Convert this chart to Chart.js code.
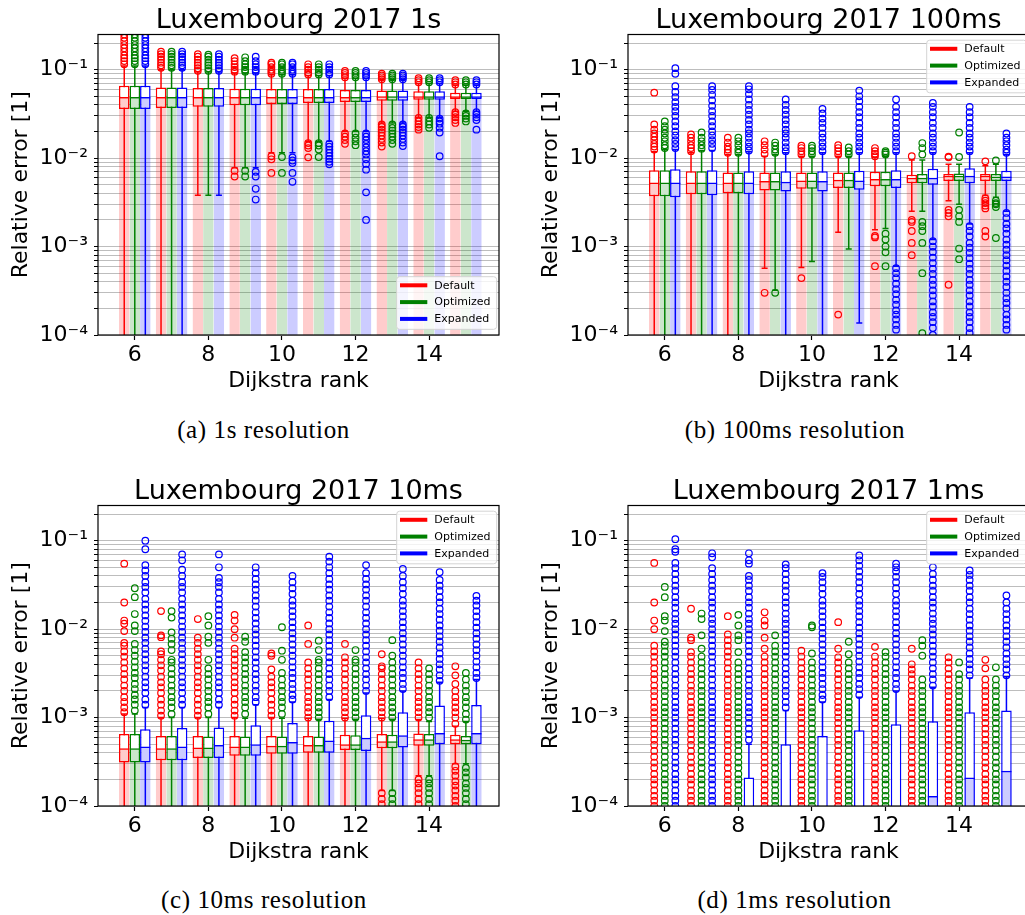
<!DOCTYPE html>
<html>
<head>
<meta charset="utf-8">
<script src="https://cdn.jsdelivr.net/npm/chart.js@4.4.0/dist/chart.umd.min.js"></script>
<style>
  body { margin: 0; width: 1025px; height: 915px; overflow: hidden; background: #fff; position: relative; }
  .panel { position: absolute; width: 510px; height: 400px; }
  .caption { position: absolute; transform: translate(-50%, -50%); white-space: nowrap;
             font-family: 'Liberation Serif', serif; font-size: 25px; letter-spacing: 0.6px; color: #000; }
</style>
</head>
<body>
<div class="panel" style="left:0;top:0"><canvas id="p1" width="510" height="400"></canvas></div>
<div class="panel" style="left:530px;top:0"><canvas id="p2" width="510" height="400"></canvas></div>
<div class="panel" style="left:0;top:471px"><canvas id="p3" width="510" height="400"></canvas></div>
<div class="panel" style="left:530px;top:471px"><canvas id="p4" width="510" height="400"></canvas></div>
<div class="caption" style="left:263.5px;top:430px">(a) 1s resolution</div>
<div class="caption" style="left:795px;top:430px">(b) 100ms resolution</div>
<div class="caption" style="left:264px;top:900px">(c) 10ms resolution</div>
<div class="caption" style="left:794.5px;top:900px">(d) 1ms resolution</div>
<script>
/* ---------- data ---------- */
const ranks = [6, 7, 8, 9, 10, 11, 12, 13, 14, 15];
const seriesNames = ['Default', 'Optimized', 'Expanded'];
const xTicks = [6, 8, 10, 12, 14];
const yTicks = [1e-4, 2e-4, 3e-4, 4e-4, 5e-4, 6e-4, 7e-4, 8e-4, 9e-4,
                1e-3, 2e-3, 3e-3, 4e-3, 5e-3, 6e-3, 7e-3, 8e-3, 9e-3,
                0.01, 0.02, 0.03, 0.04, 0.05, 0.06, 0.07, 0.08, 0.09, 0.1, 0.2];

// box stats per rank: [whisker low, q1, median, q3, whisker high]
// 1s
const box1Def = [
  [1e-6, 0.036, 0.049, 0.066, 0.11], [1e-6, 0.037, 0.049, 0.063, 0.1], [0.0038, 0.038, 0.049, 0.062, 0.094],
  [0.0078, 0.0395, 0.049, 0.061, 0.092], [0.0115, 0.041, 0.049, 0.0605, 0.088], [0.0155, 0.042, 0.049, 0.0605, 0.086],
  [0.02, 0.043, 0.049, 0.059, 0.08], [0.025, 0.0446, 0.05, 0.058, 0.077], [0.029, 0.0457, 0.05, 0.057, 0.07],
  [0.034, 0.0465, 0.05, 0.055, 0.067]
];
const box1Opt = [
  [1e-6, 0.036, 0.049, 0.066, 0.11], [1e-6, 0.037, 0.049, 0.063, 0.1], [0.0038, 0.038, 0.049, 0.062, 0.094],
  [0.0078, 0.0395, 0.049, 0.061, 0.092], [0.0115, 0.041, 0.049, 0.0605, 0.088], [0.0155, 0.042, 0.049, 0.0605, 0.086],
  [0.02, 0.043, 0.049, 0.059, 0.08], [0.025, 0.0446, 0.05, 0.058, 0.077], [0.029, 0.0457, 0.05, 0.057, 0.07],
  [0.034, 0.0465, 0.05, 0.055, 0.067]
];
const box1Exp = [
  [1e-6, 0.036, 0.049, 0.066, 0.11], [1e-6, 0.037, 0.049, 0.063, 0.1], [0.0038, 0.038, 0.049, 0.062, 0.094],
  [0.0078, 0.0395, 0.049, 0.061, 0.092], [0.0115, 0.041, 0.049, 0.0605, 0.088], [0.0155, 0.042, 0.049, 0.0605, 0.086],
  [0.02, 0.043, 0.049, 0.059, 0.08], [0.025, 0.0446, 0.05, 0.058, 0.077], [0.029, 0.0457, 0.05, 0.057, 0.07],
  [0.034, 0.0465, 0.05, 0.055, 0.067]
];
const out1Def = [
  [0.115, 0.125, 0.135, 0.145, 0.16, 0.175, 0.19, 0.21, 0.23, 0.25],
  [0.105, 0.112, 0.12, 0.13, 0.14, 0.15, 0.16],
  [0.097, 0.104, 0.112, 0.12, 0.13, 0.14, 0.15],
  [0.095, 0.1, 0.107, 0.115, 0.125, 0.135, 0.0072, 0.0062],
  [0.09, 0.095, 0.1, 0.107, 0.115, 0.12, 0.0105, 0.0097, 0.0068],
  [0.088, 0.093, 0.1, 0.107, 0.115, 0.0148, 0.0139, 0.013, 0.0102],
  [0.082, 0.087, 0.092, 0.097, 0.019, 0.0175, 0.016, 0.0145],
  [0.078, 0.082, 0.086, 0.09, 0.024, 0.0225, 0.021, 0.0195, 0.018, 0.0165, 0.015, 0.0135],
  [0.072, 0.076, 0.08, 0.0285, 0.026, 0.024, 0.0225, 0.021],
  [0.068, 0.072, 0.076, 0.033, 0.031, 0.029, 0.027, 0.025]
];
const out1Opt = [
  [0.115, 0.125, 0.135, 0.145, 0.16, 0.175, 0.19, 0.21, 0.23, 0.25],
  [0.105, 0.112, 0.12, 0.13, 0.14, 0.15, 0.16],
  [0.097, 0.104, 0.112, 0.12, 0.13, 0.14, 0.148],
  [0.095, 0.1, 0.107, 0.115, 0.125, 0.138, 0.0072, 0.0062],
  [0.09, 0.095, 0.1, 0.107, 0.115, 0.12, 0.0103, 0.0068],
  [0.088, 0.093, 0.1, 0.107, 0.115, 0.0148, 0.0139, 0.0125, 0.0103],
  [0.082, 0.087, 0.092, 0.097, 0.019, 0.017, 0.0155, 0.014],
  [0.078, 0.082, 0.086, 0.09, 0.024, 0.022, 0.0205, 0.019, 0.0175, 0.016, 0.0145],
  [0.072, 0.076, 0.08, 0.0285, 0.026, 0.024, 0.022],
  [0.068, 0.072, 0.076, 0.032, 0.03, 0.028, 0.026]
];
const out1Exp = [
  [0.115, 0.125, 0.135, 0.145, 0.16, 0.175, 0.19, 0.21, 0.23, 0.25],
  [0.105, 0.112, 0.12, 0.13, 0.14, 0.15, 0.16],
  [0.097, 0.104, 0.112, 0.12, 0.13, 0.14, 0.15],
  [0.095, 0.1, 0.107, 0.115, 0.125, 0.14, 0.007, 0.0062, 0.0045, 0.0034],
  [0.09, 0.095, 0.1, 0.107, 0.115, 0.12, 0.0102, 0.0094, 0.0088, 0.0068, 0.0054],
  [0.088, 0.093, 0.1, 0.107, 0.115, 0.0145, 0.0135, 0.0125, 0.0115, 0.0106, 0.0098, 0.0091, 0.0085],
  [0.082, 0.087, 0.092, 0.097, 0.019, 0.0175, 0.016, 0.0145, 0.0132, 0.012, 0.011, 0.0097, 0.0086, 0.0074, 0.0041, 0.002],
  [0.078, 0.082, 0.086, 0.09, 0.024, 0.0225, 0.021, 0.0195, 0.018, 0.0165, 0.015, 0.0137],
  [0.072, 0.076, 0.08, 0.028, 0.026, 0.0245, 0.022, 0.0195, 0.0105],
  [0.068, 0.072, 0.076, 0.033, 0.031, 0.029, 0.027, 0.021]
];

// 100ms
const box2Def = [
  [1e-6, 0.0037, 0.0053, 0.0073, 0.0118], [1e-6, 0.0039, 0.0053, 0.0071, 0.0115], [1e-6, 0.004, 0.0053, 0.0069, 0.011],
  [0.00057, 0.0043, 0.0055, 0.0069, 0.0105], [0.00058, 0.0045, 0.0056, 0.0069, 0.0105], [0.00145, 0.0046, 0.0057, 0.0069, 0.0105],
  [0.00155, 0.0048, 0.0058, 0.007, 0.0102], [0.0025, 0.0052, 0.006, 0.0065, 0.0095], [0.0033, 0.0055, 0.0063, 0.0066, 0.0085],
  [0.0038, 0.0055, 0.0063, 0.0066, 0.0082]
];
const box2Opt = [
  [1e-6, 0.0037, 0.0053, 0.0073, 0.0125], [1e-6, 0.0039, 0.0053, 0.0071, 0.0122], [1e-6, 0.004, 0.0053, 0.0069, 0.011],
  [0.00032, 0.0043, 0.0055, 0.0069, 0.011], [0.00068, 0.0045, 0.0056, 0.0069, 0.0105], [0.00094, 0.0046, 0.0057, 0.0069, 0.0105],
  [0.0016, 0.0048, 0.0058, 0.007, 0.0105], [0.0025, 0.0052, 0.006, 0.0066, 0.0095], [0.003, 0.0055, 0.0063, 0.0067, 0.0085],
  [0.0036, 0.0055, 0.0062, 0.0066, 0.0085]
];
const box2Exp = [
  [1e-6, 0.0036, 0.0053, 0.0075, 0.0125], [1e-6, 0.0038, 0.0053, 0.0073, 0.0122], [1e-6, 0.0039, 0.0053, 0.0071, 0.0118],
  [1e-6, 0.0042, 0.0054, 0.0071, 0.0115], [1e-6, 0.0042, 0.0055, 0.0071, 0.0115], [0.000137, 0.0044, 0.0056, 0.0072, 0.0115],
  [0.0006, 0.0046, 0.0058, 0.0073, 0.0115], [0.0012, 0.005, 0.006, 0.0076, 0.0115], [0.0018, 0.0052, 0.0063, 0.0077, 0.0115],
  [0.0025, 0.0055, 0.0062, 0.0072, 0.011]
];
const out2Def = [
  [0.0125, 0.0135, 0.0145, 0.016, 0.0175, 0.019, 0.021, 0.024, 0.055],
  [0.012, 0.013, 0.014, 0.0155, 0.017, 0.0185],
  [0.0115, 0.0125, 0.0135, 0.015, 0.017],
  [0.0112, 0.0125, 0.014, 0.0155, 0.0003],
  [0.011, 0.012, 0.013, 0.0138, 0.00044],
  [0.011, 0.012, 0.013, 0.014, 0.00017],
  [0.0105, 0.0112, 0.012, 0.013, 0.00132, 0.00127, 0.0006],
  [0.0105, 0.002, 0.0019, 0.0015, 0.0011, 0.0008],
  [0.0102, 0.0104, 0.0026, 0.0024, 0.0022, 0.00037],
  [0.0092, 0.0035, 0.0033, 0.0031, 0.0029, 0.0027, 0.0015, 0.0013]
];
const out2Opt = [
  [0.013, 0.014, 0.0155, 0.017, 0.019, 0.021, 0.023, 0.026],
  [0.0128, 0.014, 0.0155, 0.017, 0.0195],
  [0.0115, 0.0125, 0.014, 0.0155, 0.017],
  [0.0115, 0.0125, 0.0138, 0.015, 0.0003],
  [0.011, 0.012, 0.013, 0.0138],
  [0.011, 0.012, 0.0132],
  [0.011, 0.0115, 0.012, 0.0014, 0.0012, 0.001, 0.00086, 0.0006],
  [0.011, 0.013, 0.0148, 0.0019, 0.0017, 0.0015, 0.0011, 0.0005, 0.000105],
  [0.0103, 0.0195, 0.0026, 0.0022, 0.0019, 0.00095, 0.00072],
  [0.0094, 0.0033, 0.0031, 0.003, 0.0028, 0.00125]
];
const out2Exp = [
  [0.013, 0.0145, 0.016, 0.018, 0.02, 0.023, 0.026, 0.03, 0.034, 0.038, 0.043, 0.049, 0.056, 0.065, 0.09, 0.104],
  [0.013, 0.0145, 0.016, 0.018, 0.02, 0.023, 0.026, 0.03, 0.034, 0.039, 0.045, 0.052, 0.059, 0.065],
  [0.0122, 0.0135, 0.015, 0.017, 0.019, 0.021, 0.024, 0.027, 0.031, 0.035, 0.04, 0.046, 0.053, 0.06, 0.065],
  [0.012, 0.0133, 0.015, 0.017, 0.019, 0.021, 0.024, 0.027, 0.031, 0.035, 0.04, 0.046],
  [0.012, 0.0135, 0.015, 0.017, 0.019, 0.022, 0.025, 0.028, 0.032, 0.036],
  [0.012, 0.0135, 0.015, 0.017, 0.019, 0.022, 0.025, 0.029, 0.033, 0.038, 0.044, 0.05, 0.058],
  [0.012, 0.0135, 0.015, 0.017, 0.019, 0.022, 0.025, 0.029, 0.033, 0.038, 0.046,
   0.00057, 0.0005, 0.00044, 0.00038, 0.00033, 0.00029, 0.00025, 0.00022, 0.00019, 0.00017, 0.00015, 0.00013, 0.000115],
  [0.012, 0.0135, 0.015, 0.017, 0.019, 0.022, 0.025, 0.029, 0.033, 0.038, 0.042,
   0.00115, 0.001, 0.00087, 0.00075, 0.00065, 0.00056, 0.00049, 0.00042, 0.00037, 0.00032, 0.00028, 0.00024, 0.00021, 0.00018, 0.00016, 0.00014, 0.00012, 0.0001],
  [0.012, 0.0135, 0.015, 0.017, 0.019, 0.022, 0.025, 0.029, 0.033, 0.038,
   0.0017, 0.0015, 0.0013, 0.0011, 0.00097, 0.00085, 0.00074, 0.00064, 0.00056, 0.00049, 0.00042, 0.00037, 0.00032, 0.00028, 0.00024, 0.00021, 0.00018, 0.00016, 0.00014, 0.00012, 0.000105],
  [0.0115, 0.0125, 0.014, 0.0155, 0.017, 0.019,
   0.0024, 0.0021, 0.0018, 0.0016, 0.0014, 0.0012, 0.00105, 0.00092, 0.0008, 0.0007, 0.00061, 0.00053, 0.00046, 0.0004, 0.00035, 0.0003, 0.00026, 0.00023, 0.0002, 0.00017, 0.00015, 0.00013, 0.000115]
];

// 10ms
const box3Def = [
  [1e-6, 0.00031, 0.00045, 0.00065, 0.0011], [1e-6, 0.00033, 0.00045, 0.00062, 0.001], [1e-6, 0.00035, 0.00046, 0.00062, 0.001],
  [1e-6, 0.00037, 0.00047, 0.00062, 0.001], [1e-6, 0.00039, 0.00048, 0.00062, 0.001], [1e-6, 0.0004, 0.00049, 0.00062, 0.00098],
  [1e-6, 0.00043, 0.0005, 0.00064, 0.00098], [0.00015, 0.00045, 0.00054, 0.00065, 0.00098], [0.00022, 0.00048, 0.00057, 0.00066, 0.00095],
  [0.0003, 0.0005, 0.00057, 0.00064, 0.0008]
];
const box3Opt = [
  [1e-6, 0.00031, 0.00045, 0.00065, 0.0011], [1e-6, 0.00033, 0.00045, 0.00062, 0.001], [1e-6, 0.00035, 0.00046, 0.00061, 0.001],
  [1e-6, 0.00037, 0.00047, 0.00061, 0.00098], [1e-6, 0.00039, 0.00048, 0.00061, 0.00098], [1e-6, 0.0004, 0.00049, 0.00061, 0.00096],
  [1e-6, 0.00043, 0.0005, 0.00063, 0.00096], [0.00015, 0.00045, 0.00054, 0.00064, 0.00096], [0.00022, 0.00048, 0.00057, 0.00065, 0.0009],
  [0.0003, 0.0005, 0.00056, 0.00062, 0.0009]
];
const box3Exp = [
  [1e-6, 0.00031, 0.00047, 0.00074, 0.0013], [1e-6, 0.00033, 0.00047, 0.00076, 0.0013], [1e-6, 0.00035, 0.00049, 0.00077, 0.0013],
  [1e-6, 0.00037, 0.0005, 0.00082, 0.0014], [1e-6, 0.00039, 0.00053, 0.00087, 0.0015], [1e-6, 0.0004, 0.00055, 0.00092, 0.0016],
  [1e-6, 0.00042, 0.00059, 0.00106, 0.0019], [1e-6, 0.00046, 0.00063, 0.00115, 0.002], [1e-6, 0.0005, 0.00067, 0.00137, 0.0025],
  [1e-6, 0.0005, 0.00067, 0.00139, 0.0027]
];
const out3Def = [
  [0.00115, 0.0013, 0.0015, 0.0017, 0.002, 0.0023, 0.0027, 0.0031, 0.0036, 0.0042, 0.0049, 0.0056, 0.0065, 0.007, 0.0095, 0.0115, 0.0125, 0.02, 0.055],
  [0.00105, 0.0012, 0.0014, 0.0016, 0.0019, 0.0022, 0.0025, 0.0029, 0.0034, 0.0039, 0.0045, 0.0052, 0.0056, 0.0081, 0.0085, 0.016],
  [0.00105, 0.0012, 0.0014, 0.0016, 0.0019, 0.0022, 0.0025, 0.0029, 0.0034, 0.0039, 0.0045, 0.0052, 0.006, 0.007, 0.008, 0.013],
  [0.00105, 0.0012, 0.0014, 0.0016, 0.0019, 0.0022, 0.0025, 0.0029, 0.0034, 0.0039, 0.0045, 0.0052, 0.006, 0.008, 0.01, 0.0125, 0.0145],
  [0.00105, 0.0012, 0.0014, 0.0016, 0.0019, 0.0022, 0.0025, 0.0029, 0.0035, 0.005, 0.0053],
  [0.001, 0.00115, 0.0013, 0.0015, 0.0017, 0.002, 0.0023, 0.0027, 0.0031, 0.0036, 0.0042, 0.0068, 0.011],
  [0.001, 0.00115, 0.0013, 0.0015, 0.0017, 0.002, 0.0023, 0.0027, 0.0031, 0.0036, 0.0042, 0.0048, 0.0068],
  [0.001, 0.00115, 0.0013, 0.0015, 0.0017, 0.002, 0.0023, 0.0027, 0.0031, 0.0036, 0.0038, 0.0052, 0.00014, 0.00012, 0.000105],
  [0.001, 0.00115, 0.0013, 0.0015, 0.0017, 0.002, 0.0023, 0.0027, 0.0031, 0.0036, 0.0042, 0.0002, 0.00018, 0.00016, 0.00014, 0.00012, 0.000105],
  [0.00085, 0.001, 0.00115, 0.0013, 0.0015, 0.0017, 0.002, 0.0024, 0.003, 0.0038, 0.00028, 0.00025, 0.00022, 0.00019, 0.00017, 0.00015, 0.00013, 0.000115, 0.0001]
];
const out3Opt = [
  [0.0012, 0.0014, 0.0016, 0.0018, 0.0021, 0.0024, 0.0028, 0.0032, 0.0037, 0.0043, 0.005, 0.0058, 0.0068, 0.0095, 0.011, 0.0148, 0.023, 0.029],
  [0.0011, 0.0013, 0.0015, 0.0017, 0.002, 0.0023, 0.0027, 0.0031, 0.0036, 0.0042, 0.0045, 0.0058, 0.0068, 0.0078, 0.0092, 0.0135, 0.016],
  [0.0011, 0.0013, 0.0015, 0.0017, 0.002, 0.0023, 0.0027, 0.0031, 0.0036, 0.0045, 0.007, 0.0082, 0.011, 0.014],
  [0.0011, 0.0013, 0.0015, 0.0017, 0.002, 0.0023, 0.0027, 0.0031, 0.0036, 0.0042, 0.0048, 0.0055, 0.0072, 0.0082],
  [0.0011, 0.0013, 0.0015, 0.0017, 0.002, 0.0023, 0.0027, 0.0032, 0.0045, 0.0057, 0.0105],
  [0.001, 0.00115, 0.0013, 0.0015, 0.0017, 0.002, 0.0023, 0.0027, 0.0031, 0.0036, 0.0042, 0.0045, 0.0058, 0.0074],
  [0.001, 0.00115, 0.0013, 0.0015, 0.0017, 0.002, 0.0023, 0.0027, 0.0031, 0.0036, 0.0042, 0.0045, 0.0058],
  [0.001, 0.00115, 0.0013, 0.0015, 0.0017, 0.002, 0.0023, 0.0027, 0.0031, 0.0036, 0.0042, 0.005, 0.0075, 0.00014, 0.00012, 0.000105],
  [0.001, 0.00115, 0.0013, 0.0015, 0.0017, 0.002, 0.0023, 0.0027, 0.0031, 0.0036, 0.0002, 0.00018, 0.00016, 0.00014, 0.00012, 0.000105],
  [0.00095, 0.0011, 0.0013, 0.0015, 0.0017, 0.002, 0.0023, 0.0027, 0.0032, 0.00027, 0.00024, 0.00021, 0.00018, 0.00016, 0.00014, 0.00012, 0.000105]
];
const out3Exp = [
  [0.0014, 0.0016, 0.0019, 0.0022, 0.0025, 0.0029, 0.0034, 0.0039, 0.0045, 0.0052, 0.006, 0.007, 0.008, 0.0093, 0.0107, 0.0124, 0.0143, 0.0166, 0.019, 0.022, 0.026, 0.03, 0.034, 0.04, 0.046, 0.053, 0.08, 0.1],
  [0.0014, 0.0016, 0.0019, 0.0022, 0.0025, 0.0029, 0.0034, 0.0039, 0.0045, 0.0052, 0.006, 0.007, 0.008, 0.0093, 0.0107, 0.0124, 0.0143, 0.0166, 0.019, 0.022, 0.026, 0.03, 0.034, 0.04, 0.047, 0.06, 0.07],
  [0.0014, 0.0016, 0.0019, 0.0022, 0.0025, 0.0029, 0.0034, 0.0039, 0.0045, 0.0052, 0.006, 0.007, 0.008, 0.0093, 0.0107, 0.0124, 0.0143, 0.0166, 0.019, 0.022, 0.026, 0.03, 0.034, 0.038, 0.05, 0.07],
  [0.0015, 0.0017, 0.002, 0.0023, 0.0027, 0.0031, 0.0036, 0.0042, 0.0048, 0.0056, 0.0065, 0.0075, 0.0087, 0.01, 0.0116, 0.0134, 0.0155, 0.018, 0.021, 0.024, 0.028, 0.032, 0.037, 0.043, 0.05],
  [0.0016, 0.0018, 0.0021, 0.0024, 0.0028, 0.0032, 0.0037, 0.0043, 0.005, 0.0058, 0.0067, 0.0078, 0.009, 0.0104, 0.012, 0.0139, 0.016, 0.0185, 0.021, 0.025, 0.029, 0.034, 0.04],
  [0.0017, 0.002, 0.0023, 0.0027, 0.0031, 0.0036, 0.0042, 0.0048, 0.0056, 0.0065, 0.0075, 0.0087, 0.01, 0.0116, 0.0134, 0.0155, 0.018, 0.021, 0.024, 0.028, 0.032, 0.037, 0.043, 0.05, 0.058, 0.066],
  [0.002, 0.0023, 0.0027, 0.0031, 0.0036, 0.0042, 0.0048, 0.0056, 0.0065, 0.0075, 0.0087, 0.01, 0.0116, 0.0134, 0.0155, 0.018, 0.021, 0.024, 0.028, 0.032, 0.037, 0.043, 0.053],
  [0.0021, 0.0024, 0.0028, 0.0032, 0.0037, 0.0043, 0.005, 0.0058, 0.0067, 0.0078, 0.009, 0.0104, 0.012, 0.0139, 0.016, 0.0185, 0.021, 0.025, 0.029, 0.034, 0.04, 0.048],
  [0.0026, 0.003, 0.0035, 0.004, 0.0046, 0.0053, 0.0062, 0.0072, 0.0083, 0.0096, 0.011, 0.0128, 0.0148, 0.017, 0.02, 0.023, 0.027, 0.031, 0.036, 0.044],
  [0.0028, 0.0032, 0.0037, 0.0043, 0.005, 0.0058, 0.0067, 0.0078, 0.009, 0.0104, 0.012, 0.0139, 0.016, 0.0185, 0.021, 0.0238]
];

// 1ms
const box4Def = [
  [1e-6, 2e-5, 3e-5, 5e-5, 9e-5], [1e-6, 2e-5, 3e-5, 5e-5, 9e-5], [1e-6, 2e-5, 3e-5, 5e-5, 9e-5],
  [1e-6, 2e-5, 3e-5, 5e-5, 9e-5], [1e-6, 2e-5, 3e-5, 5e-5, 9e-5], [1e-6, 2e-5, 3e-5, 5e-5, 9e-5],
  [1e-6, 2e-5, 3e-5, 5e-5, 9e-5], [1e-6, 2e-5, 3e-5, 5e-5, 9e-5], [1e-6, 2e-5, 3e-5, 5e-5, 9e-5],
  [1e-6, 2e-5, 3e-5, 5e-5, 9e-5]
];
const box4Opt = [
  [1e-6, 2e-5, 3e-5, 5e-5, 9e-5], [1e-6, 2e-5, 3e-5, 5e-5, 9e-5], [1e-6, 2e-5, 3e-5, 5e-5, 9e-5],
  [1e-6, 2e-5, 3e-5, 5e-5, 9e-5], [1e-6, 2e-5, 3e-5, 5e-5, 9e-5], [1e-6, 2e-5, 3e-5, 5e-5, 9e-5],
  [1e-6, 2e-5, 3e-5, 5e-5, 9e-5], [1e-6, 2e-5, 3e-5, 5e-5, 9e-5], [1e-6, 2e-5, 3e-5, 5e-5, 9e-5],
  [1e-6, 2e-5, 3e-5, 5e-5, 9e-5]
];
const box4Exp = [
  [1e-6, 2e-5, 3e-5, 5e-5, 9e-5], [1e-6, 2e-5, 3e-5, 5e-5, 9e-5], [1e-6, 3e-5, 7e-5, 0.00021, 0.0005],
  [1e-6, 4e-5, 8e-5, 0.0005, 0.0012], [1e-6, 4e-5, 8e-5, 0.00062, 0.0015], [1e-6, 4e-5, 8.5e-5, 0.00072, 0.0017],
  [1e-6, 4e-5, 9e-5, 0.00084, 0.002], [1e-6, 5e-5, 0.00013, 0.00091, 0.0022], [1e-6, 5e-5, 0.00021, 0.00115, 0.0028],
  [1e-6, 6e-5, 0.00025, 0.0012, 0.0029]
];
const out4Def = [
  [1e-4, 1.15e-4, 1.3e-4, 1.5e-4, 1.75e-4, 2e-4, 2.3e-4, 2.7e-4, 3.1e-4, 3.6e-4, 4.2e-4, 4.9e-4, 5.6e-4, 6.5e-4, 7.5e-4, 8.7e-4,
   1e-3, 1.15e-3, 1.3e-3, 1.5e-3, 1.75e-3, 2e-3, 2.3e-3, 2.7e-3, 3.1e-3, 3.6e-3, 4.2e-3, 4.9e-3, 5.6e-3, 6.5e-3, 0.01, 0.0125, 0.02, 0.056],
  [1e-4, 1.15e-4, 1.3e-4, 1.5e-4, 1.75e-4, 2e-4, 2.3e-4, 2.7e-4, 3.1e-4, 3.6e-4, 4.2e-4, 4.9e-4, 5.6e-4, 6.5e-4, 7.5e-4, 8.7e-4,
   1e-3, 1.15e-3, 1.3e-3, 1.5e-3, 1.75e-3, 2e-3, 2.3e-3, 2.7e-3, 3.1e-3, 3.6e-3, 4.2e-3, 4.9e-3, 5.5e-3, 7.5e-3, 8e-3, 0.017],
  [1e-4, 1.15e-4, 1.3e-4, 1.5e-4, 1.75e-4, 2e-4, 2.3e-4, 2.7e-4, 3.1e-4, 3.6e-4, 4.2e-4, 4.9e-4, 5.6e-4, 6.5e-4, 7.5e-4, 8.7e-4,
   1e-3, 1.15e-3, 1.3e-3, 1.5e-3, 1.75e-3, 2e-3, 2.3e-3, 2.7e-3, 3.1e-3, 3.6e-3, 4.2e-3, 4.9e-3, 5.6e-3, 6.5e-3, 7.5e-3, 8.7e-3, 0.014],
  [1e-4, 1.15e-4, 1.3e-4, 1.5e-4, 1.75e-4, 2e-4, 2.3e-4, 2.7e-4, 3.1e-4, 3.6e-4, 4.2e-4, 4.9e-4, 5.6e-4, 6.5e-4, 7.5e-4, 8.7e-4,
   1e-3, 1.15e-3, 1.3e-3, 1.5e-3, 1.75e-3, 2e-3, 2.3e-3, 2.7e-3, 3.1e-3, 3.6e-3, 4.2e-3, 4.9e-3, 6e-3, 8e-3, 0.011, 0.0125, 0.0155],
  [1e-4, 1.15e-4, 1.3e-4, 1.5e-4, 1.75e-4, 2e-4, 2.3e-4, 2.7e-4, 3.1e-4, 3.6e-4, 4.2e-4, 4.9e-4, 5.6e-4, 6.5e-4, 7.5e-4, 8.7e-4,
   1e-3, 1.15e-3, 1.3e-3, 1.5e-3, 1.75e-3, 2e-3, 2.3e-3, 2.7e-3, 3.1e-3, 3.6e-3, 4.2e-3, 4.9e-3, 5.7e-3],
  [1e-4, 1.15e-4, 1.3e-4, 1.5e-4, 1.75e-4, 2e-4, 2.3e-4, 2.7e-4, 3.1e-4, 3.6e-4, 4.2e-4, 4.9e-4, 5.6e-4, 6.5e-4, 7.5e-4, 8.7e-4,
   1e-3, 1.15e-3, 1.3e-3, 1.5e-3, 1.75e-3, 2e-3, 2.3e-3, 2.7e-3, 3.1e-3, 3.6e-3, 4.2e-3, 4.8e-3, 6e-3, 0.012],
  [1e-4, 1.15e-4, 1.3e-4, 1.5e-4, 1.75e-4, 2e-4, 2.3e-4, 2.7e-4, 3.1e-4, 3.6e-4, 4.2e-4, 4.9e-4, 5.6e-4, 6.5e-4, 7.5e-4, 8.7e-4,
   1e-3, 1.15e-3, 1.3e-3, 1.5e-3, 1.75e-3, 2e-3, 2.3e-3, 2.7e-3, 3.1e-3, 3.6e-3, 4.2e-3, 4.9e-3, 6.3e-3],
  [1e-4, 1.15e-4, 1.3e-4, 1.5e-4, 1.75e-4, 2e-4, 2.3e-4, 2.7e-4, 3.1e-4, 3.6e-4, 4.2e-4, 4.9e-4, 5.6e-4, 6.5e-4, 7.5e-4, 8.7e-4,
   1e-3, 1.15e-3, 1.3e-3, 1.5e-3, 1.75e-3, 2e-3, 2.3e-3, 2.7e-3, 3.1e-3, 3.5e-3, 4e-3, 6e-3],
  [1e-4, 1.15e-4, 1.3e-4, 1.5e-4, 1.75e-4, 2e-4, 2.3e-4, 2.7e-4, 3.1e-4, 3.6e-4, 4.2e-4, 4.9e-4, 5.6e-4, 6.5e-4, 7.5e-4, 8.7e-4,
   1e-3, 1.15e-3, 1.3e-3, 1.5e-3, 1.75e-3, 2e-3, 2.3e-3, 2.7e-3, 3.1e-3, 3.6e-3, 4.2e-3, 4.8e-3],
  [1e-4, 1.15e-4, 1.3e-4, 1.5e-4, 1.75e-4, 2e-4, 2.3e-4, 2.7e-4, 3.1e-4, 3.6e-4, 4.2e-4, 4.9e-4, 5.6e-4, 6.5e-4, 7.5e-4, 8.7e-4,
   1e-3, 1.15e-3, 1.3e-3, 1.5e-3, 1.75e-3, 2e-3, 2.3e-3, 2.7e-3, 3.6e-3, 4.5e-3]
];
const out4Opt = [
  [1e-4, 1.15e-4, 1.3e-4, 1.5e-4, 1.75e-4, 2e-4, 2.3e-4, 2.7e-4, 3.1e-4, 3.6e-4, 4.2e-4, 4.9e-4, 5.6e-4, 6.5e-4, 7.5e-4, 8.7e-4,
   1e-3, 1.15e-3, 1.3e-3, 1.5e-3, 1.75e-3, 2e-3, 2.3e-3, 2.7e-3, 3.1e-3, 3.6e-3, 4.2e-3, 4.9e-3, 5.6e-3, 6.5e-3, 7.2e-3, 9.5e-3, 0.0125, 0.014, 0.023, 0.03],
  [1e-4, 1.15e-4, 1.3e-4, 1.5e-4, 1.75e-4, 2e-4, 2.3e-4, 2.7e-4, 3.1e-4, 3.6e-4, 4.2e-4, 4.9e-4, 5.6e-4, 6.5e-4, 7.5e-4, 8.7e-4,
   1e-3, 1.15e-3, 1.3e-3, 1.5e-3, 1.75e-3, 2e-3, 2.3e-3, 2.7e-3, 3.1e-3, 3.6e-3, 4.2e-3, 4.9e-3, 6e-3, 8.5e-3, 0.013, 0.015],
  [1e-4, 1.15e-4, 1.3e-4, 1.5e-4, 1.75e-4, 2e-4, 2.3e-4, 2.7e-4, 3.1e-4, 3.6e-4, 4.2e-4, 4.9e-4, 5.6e-4, 6.5e-4, 7.5e-4, 8.7e-4,
   1e-3, 1.15e-3, 1.3e-3, 1.5e-3, 1.75e-3, 2e-3, 2.3e-3, 2.7e-3, 3.1e-3, 3.6e-3, 4.2e-3, 5.5e-3, 7.5e-3, 8.5e-3, 0.011, 0.0145],
  [1e-4, 1.15e-4, 1.3e-4, 1.5e-4, 1.75e-4, 2e-4, 2.3e-4, 2.7e-4, 3.1e-4, 3.6e-4, 4.2e-4, 4.9e-4, 5.6e-4, 6.5e-4, 7.5e-4, 8.7e-4,
   1e-3, 1.15e-3, 1.3e-3, 1.5e-3, 1.75e-3, 2e-3, 2.3e-3, 2.7e-3, 3.1e-3, 3.6e-3, 4.2e-3, 4.9e-3, 5.6e-3, 6.5e-3, 8.5e-3],
  [1e-4, 1.15e-4, 1.3e-4, 1.5e-4, 1.75e-4, 2e-4, 2.3e-4, 2.7e-4, 3.1e-4, 3.6e-4, 4.2e-4, 4.9e-4, 5.6e-4, 6.5e-4, 7.5e-4, 8.7e-4,
   1e-3, 1.15e-3, 1.3e-3, 1.5e-3, 1.75e-3, 2e-3, 2.3e-3, 2.7e-3, 3.1e-3, 3.6e-3, 4.2e-3, 5.3e-3, 0.0105, 0.011],
  [1e-4, 1.15e-4, 1.3e-4, 1.5e-4, 1.75e-4, 2e-4, 2.3e-4, 2.7e-4, 3.1e-4, 3.6e-4, 4.2e-4, 4.9e-4, 5.6e-4, 6.5e-4, 7.5e-4, 8.7e-4,
   1e-3, 1.15e-3, 1.3e-3, 1.5e-3, 1.75e-3, 2e-3, 2.3e-3, 2.7e-3, 3.1e-3, 3.6e-3, 4.2e-3, 5.2e-3, 7.2e-3],
  [1e-4, 1.15e-4, 1.3e-4, 1.5e-4, 1.75e-4, 2e-4, 2.3e-4, 2.7e-4, 3.1e-4, 3.6e-4, 4.2e-4, 4.9e-4, 5.6e-4, 6.5e-4, 7.5e-4, 8.7e-4,
   1e-3, 1.15e-3, 1.3e-3, 1.5e-3, 1.75e-3, 2e-3, 2.3e-3, 2.7e-3, 3.1e-3, 3.6e-3, 4.2e-3, 4.9e-3, 5.5e-3],
  [1e-4, 1.15e-4, 1.3e-4, 1.5e-4, 1.75e-4, 2e-4, 2.3e-4, 2.7e-4, 3.1e-4, 3.6e-4, 4.2e-4, 4.9e-4, 5.6e-4, 6.5e-4, 7.5e-4, 8.7e-4,
   1e-3, 1.15e-3, 1.3e-3, 1.5e-3, 1.75e-3, 2e-3, 2.3e-3, 2.7e-3, 5e-3, 6.5e-3, 7.5e-3],
  [1e-4, 1.15e-4, 1.3e-4, 1.5e-4, 1.75e-4, 2e-4, 2.3e-4, 2.7e-4, 3.1e-4, 3.6e-4, 4.2e-4, 4.9e-4, 5.6e-4, 6.5e-4, 7.5e-4, 8.7e-4,
   1e-3, 1.15e-3, 1.3e-3, 1.5e-3, 1.75e-3, 2e-3, 2.3e-3, 2.7e-3, 3.1e-3, 4.2e-3],
  [1e-4, 1.15e-4, 1.3e-4, 1.5e-4, 1.75e-4, 2e-4, 2.3e-4, 2.7e-4, 3.1e-4, 3.6e-4, 4.2e-4, 4.9e-4, 5.6e-4, 6.5e-4, 7.5e-4, 8.7e-4,
   1e-3, 1.15e-3, 1.3e-3, 1.5e-3, 1.75e-3, 2e-3, 2.3e-3, 2.7e-3, 3.7e-3]
];
const out4Exp = [
  [1e-4, 1.15e-4, 1.3e-4, 1.5e-4, 1.75e-4, 2e-4, 2.3e-4, 2.7e-4, 3.1e-4, 3.6e-4, 4.2e-4, 4.9e-4, 5.6e-4, 6.5e-4, 7.5e-4, 8.7e-4,
   1e-3, 1.15e-3, 1.3e-3, 1.5e-3, 1.75e-3, 2e-3, 2.3e-3, 2.7e-3, 3.1e-3, 3.6e-3, 4.2e-3, 4.9e-3, 5.6e-3, 6.5e-3, 7.5e-3, 8.7e-3,
   0.01, 0.0115, 0.013, 0.015, 0.0175, 0.02, 0.023, 0.027, 0.031, 0.036, 0.042, 0.049, 0.056, 0.075, 0.08, 0.104],
  [1e-4, 1.15e-4, 1.3e-4, 1.5e-4, 1.75e-4, 2e-4, 2.3e-4, 2.7e-4, 3.1e-4, 3.6e-4, 4.2e-4, 4.9e-4, 5.6e-4, 6.5e-4, 7.5e-4, 8.7e-4,
   1e-3, 1.15e-3, 1.3e-3, 1.5e-3, 1.75e-3, 2e-3, 2.3e-3, 2.7e-3, 3.1e-3, 3.6e-3, 4.2e-3, 4.9e-3, 5.6e-3, 6.5e-3, 7.5e-3, 8.7e-3,
   0.01, 0.0115, 0.013, 0.015, 0.0175, 0.02, 0.023, 0.027, 0.031, 0.036, 0.042, 0.049, 0.065, 0.072],
  [5.6e-4, 6.5e-4, 7.5e-4, 8.7e-4, 1e-3, 1.15e-3, 1.3e-3, 1.5e-3, 1.75e-3, 2e-3, 2.3e-3, 2.7e-3, 3.1e-3, 3.6e-3, 4.2e-3, 4.9e-3,
   5.6e-3, 6.5e-3, 7.5e-3, 8.7e-3, 0.01, 0.0115, 0.013, 0.015, 0.0175, 0.02, 0.023, 0.027, 0.031, 0.036, 0.04, 0.055, 0.06, 0.072],
  [1.3e-3, 1.5e-3, 1.75e-3, 2e-3, 2.3e-3, 2.7e-3, 3.1e-3, 3.6e-3, 4.2e-3, 4.9e-3, 5.6e-3, 6.5e-3, 7.5e-3, 8.7e-3,
   0.01, 0.0115, 0.013, 0.015, 0.0175, 0.02, 0.023, 0.027, 0.031, 0.036, 0.042, 0.049, 0.054],
  [1.6e-3, 1.8e-3, 2.1e-3, 2.4e-3, 2.8e-3, 3.2e-3, 3.7e-3, 4.3e-3, 5e-3, 5.8e-3, 6.7e-3, 7.8e-3, 9e-3,
   0.0104, 0.012, 0.0139, 0.016, 0.0185, 0.021, 0.025, 0.029, 0.034, 0.039, 0.043],
  [1.8e-3, 2.1e-3, 2.4e-3, 2.8e-3, 3.2e-3, 3.7e-3, 4.3e-3, 5e-3, 5.8e-3, 6.7e-3, 7.8e-3, 9e-3,
   0.0104, 0.012, 0.0139, 0.016, 0.0185, 0.021, 0.025, 0.029, 0.034, 0.039, 0.045, 0.052, 0.06, 0.068],
  [2.1e-3, 2.4e-3, 2.8e-3, 3.2e-3, 3.7e-3, 4.3e-3, 5e-3, 5.8e-3, 6.7e-3, 7.8e-3, 9e-3,
   0.0104, 0.012, 0.0139, 0.016, 0.0185, 0.021, 0.025, 0.029, 0.034, 0.039, 0.045, 0.05, 0.055],
  [2.3e-3, 2.7e-3, 3.1e-3, 3.6e-3, 4.2e-3, 4.9e-3, 5.6e-3, 6.5e-3, 7.5e-3, 8.7e-3,
   0.01, 0.0115, 0.013, 0.015, 0.0175, 0.02, 0.023, 0.027, 0.031, 0.036, 0.042, 0.05],
  [3e-3, 3.5e-3, 4e-3, 4.6e-3, 5.3e-3, 6.2e-3, 7.2e-3, 8.3e-3, 9.6e-3,
   0.011, 0.0128, 0.0148, 0.017, 0.02, 0.023, 0.027, 0.031, 0.036, 0.041, 0.046],
  [3e-3, 3.5e-3, 4e-3, 4.6e-3, 5.3e-3, 6.2e-3, 7.2e-3, 8.3e-3, 9.6e-3,
   0.011, 0.0128, 0.0148, 0.017, 0.02, 0.024]
];

/* ---------- styling ---------- */
const fontFamily = "'DejaVu Sans', sans-serif";
Chart.defaults.font.family = fontFamily;
const colors = ['#ff0000', '#008000', '#0000ff'];
const shades = ['rgba(255,0,0,0.2)', 'rgba(0,128,0,0.2)', 'rgba(0,0,255,0.2)'];
const stackIds = ['def', 'opt', 'exp'];
const groupWidth = 0.86;          // part of one rank step taken by the three boxes
const slot = groupWidth / 3;
const shadeBase = 1e-6;           // shaded column starts below the axis

const sup = { '-': '\u207b', '0': '\u2070', '1': '\u00b9', '2': '\u00b2', '3': '\u00b3',
              '4': '\u2074', '5': '\u2075', '6': '\u2076', '7': '\u2077', '8': '\u2078', '9': '\u2079' };
function powLabel(v) {
  const e = Math.round(Math.log10(v));
  if (Math.abs(v / Math.pow(10, e) - 1) > 1e-6) return '';
  return '10' + String(e).split('').map(c => sup[c]).join('');
}

function panelDatasets(boxes, outs) {
  const sets = [];
  const offs = [-slot, 0, slot];
  const barBase = { type: 'bar', categoryPercentage: groupWidth, barPercentage: 1, clip: 0 };
  boxes.forEach((b, s) => sets.push(Object.assign({}, barBase, {
    stack: stackIds[s], order: 5,
    data: ranks.map((r, i) => ({ x: r, y: [b[i][0], b[i][4]] })),
    backgroundColor: colors[s], borderWidth: 0, maxBarThickness: 1.5
  })));
  boxes.forEach((b, s) => sets.push(Object.assign({}, barBase, {
    stack: stackIds[s], order: 4,
    data: ranks.map((r, i) => ({ x: r, y: [b[i][1], b[i][3]] })),
    backgroundColor: '#ffffff', borderColor: colors[s], borderWidth: 1.5, borderSkipped: false
  })));
  boxes.forEach((b, s) => sets.push(Object.assign({}, barBase, {
    stack: stackIds[s], order: 3,
    data: ranks.map((r, i) => ({ x: r, y: [shadeBase, b[i][2]] })),
    backgroundColor: shades[s], borderColor: colors[s],
    borderWidth: { top: 1.5, left: 0, right: 0, bottom: 0 }, borderSkipped: false
  })));
  boxes.forEach((b, s) => sets.push({
    type: 'scatter', order: 2, clip: 0,
    data: ranks.flatMap((r, i) => [{ x: r + offs[s], y: b[i][0] }, { x: r + offs[s], y: b[i][4] }]),
    pointStyle: 'line', pointRadius: 3, borderColor: colors[s], borderWidth: 1.5
  }));
  outs.forEach((o, s) => sets.push({
    type: 'scatter', order: 1, clip: 0,
    data: ranks.flatMap((r, i) => o[i].map(v => ({ x: r + offs[s], y: v }))),
    pointStyle: 'circle', pointRadius: 3.3, borderColor: colors[s], borderWidth: 1.2,
    backgroundColor: 'rgba(0,0,0,0)'
  }));
  return sets;
}

const titlePlugin = {
  id: 'panelTitle',
  afterDraw(chart, args, opts) {
    const { ctx, chartArea: a } = chart;
    ctx.save();
    ctx.font = '27px ' + fontFamily;
    ctx.fillStyle = '#000';
    ctx.textAlign = 'center';
    ctx.textBaseline = 'alphabetic';
    ctx.fillText(opts.text, (a.left + a.right) / 2, a.top - 6.3);
    ctx.restore();
  }
};

const legendPlugin = {
  id: 'boxLegend',
  afterDatasetsDraw(chart, args, opts) {
    const { ctx, chartArea: a } = chart;
    const w = 100, h = 52.6;
    const x = a.right - 2.3 - w;
    const y = opts.corner === 'lower' ? a.bottom - 5.7 - h : a.top + 5.7;
    ctx.save();
    ctx.beginPath();
    ctx.roundRect(x, y, w, h, 3);
    ctx.fillStyle = 'rgba(255,255,255,0.8)';
    ctx.fill();
    ctx.strokeStyle = '#d4d4d4';
    ctx.lineWidth = 1;
    ctx.stroke();
    ctx.font = '11px ' + fontFamily;
    ctx.textBaseline = 'middle';
    seriesNames.forEach((name, s) => {
      const ry = y + 8.6 + s * 16.8;
      ctx.strokeStyle = colors[s];
      ctx.lineWidth = 4;
      ctx.beginPath();
      ctx.moveTo(x + 3.3, ry);
      ctx.lineTo(x + 30.6, ry);
      ctx.stroke();
      ctx.fillStyle = '#000';
      ctx.fillText(name, x + 37.6, ry + 0.5);
    });
    ctx.restore();
  }
};

const framePlugin = {
  id: 'frame',
  afterDraw(chart) {
    const { ctx, chartArea: a } = chart;
    ctx.save();
    ctx.strokeStyle = '#000';
    ctx.lineWidth = 1.2;
    ctx.strokeRect(a.left, a.top, a.right - a.left, a.bottom - a.top);
    ctx.restore();
  }
};

function makeChart(id, title, boxes, outs, corner) {
  return new Chart(document.getElementById(id), {
    type: 'scatter',
    data: { datasets: panelDatasets(boxes, outs) },
    options: {
      responsive: false,
      animation: false,
      events: [],
      layout: { padding: { left: 0, right: 11, top: 34.5, bottom: 0 } },
      plugins: {
        legend: { display: false },
        tooltip: { enabled: false },
        title: { display: false },
        panelTitle: { text: title },
        boxLegend: { corner: corner }
      },
      scales: {
        x: {
          type: 'linear', min: 5, max: 15.9, offset: false, bounds: 'data',
          afterFit: s => { s.height = 65; },
          afterBuildTicks: s => { s.ticks = xTicks.map(v => ({ value: v })); },
          ticks: { color: '#000', font: { size: 22 }, padding: 2, autoSkip: false, maxRotation: 0, callback: v => String(v) },
          grid: { offset: false, drawOnChartArea: false, drawTicks: true, tickLength: 5, tickColor: '#000', tickWidth: 1.2 },
          border: { display: false },
          title: { display: true, text: 'Dijkstra rank', color: '#000', font: { size: 22 }, padding: { top: 0, bottom: 6 } }
        },
        y: {
          type: 'logarithmic', min: 1e-4, max: 0.25, stacked: false, bounds: 'data',
          afterFit: s => { s.width = 98; },
          afterBuildTicks: s => { s.ticks = yTicks.map(v => ({ value: v })); },
          ticks: { color: '#000', font: { size: 22 }, padding: 6, autoSkip: false, callback: v => powLabel(v) },
          grid: { color: '#bdbdbd', lineWidth: 1, tickLength: 4, tickColor: '#000', tickWidth: 1 },
          border: { display: false },
          title: { display: true, text: 'Relative error [1]', color: '#000', font: { size: 22 }, padding: { top: 8, bottom: 0 } }
        }
      }
    },
    plugins: [legendPlugin, framePlugin, titlePlugin]
  });
}

makeChart('p1', 'Luxembourg 2017 1s', [box1Def, box1Opt, box1Exp], [out1Def, out1Opt, out1Exp], 'lower');
makeChart('p2', 'Luxembourg 2017 100ms', [box2Def, box2Opt, box2Exp], [out2Def, out2Opt, out2Exp], 'upper');
makeChart('p3', 'Luxembourg 2017 10ms', [box3Def, box3Opt, box3Exp], [out3Def, out3Opt, out3Exp], 'upper');
makeChart('p4', 'Luxembourg 2017 1ms', [box4Def, box4Opt, box4Exp], [out4Def, out4Opt, out4Exp], 'upper');
</script>
</body>
</html>
